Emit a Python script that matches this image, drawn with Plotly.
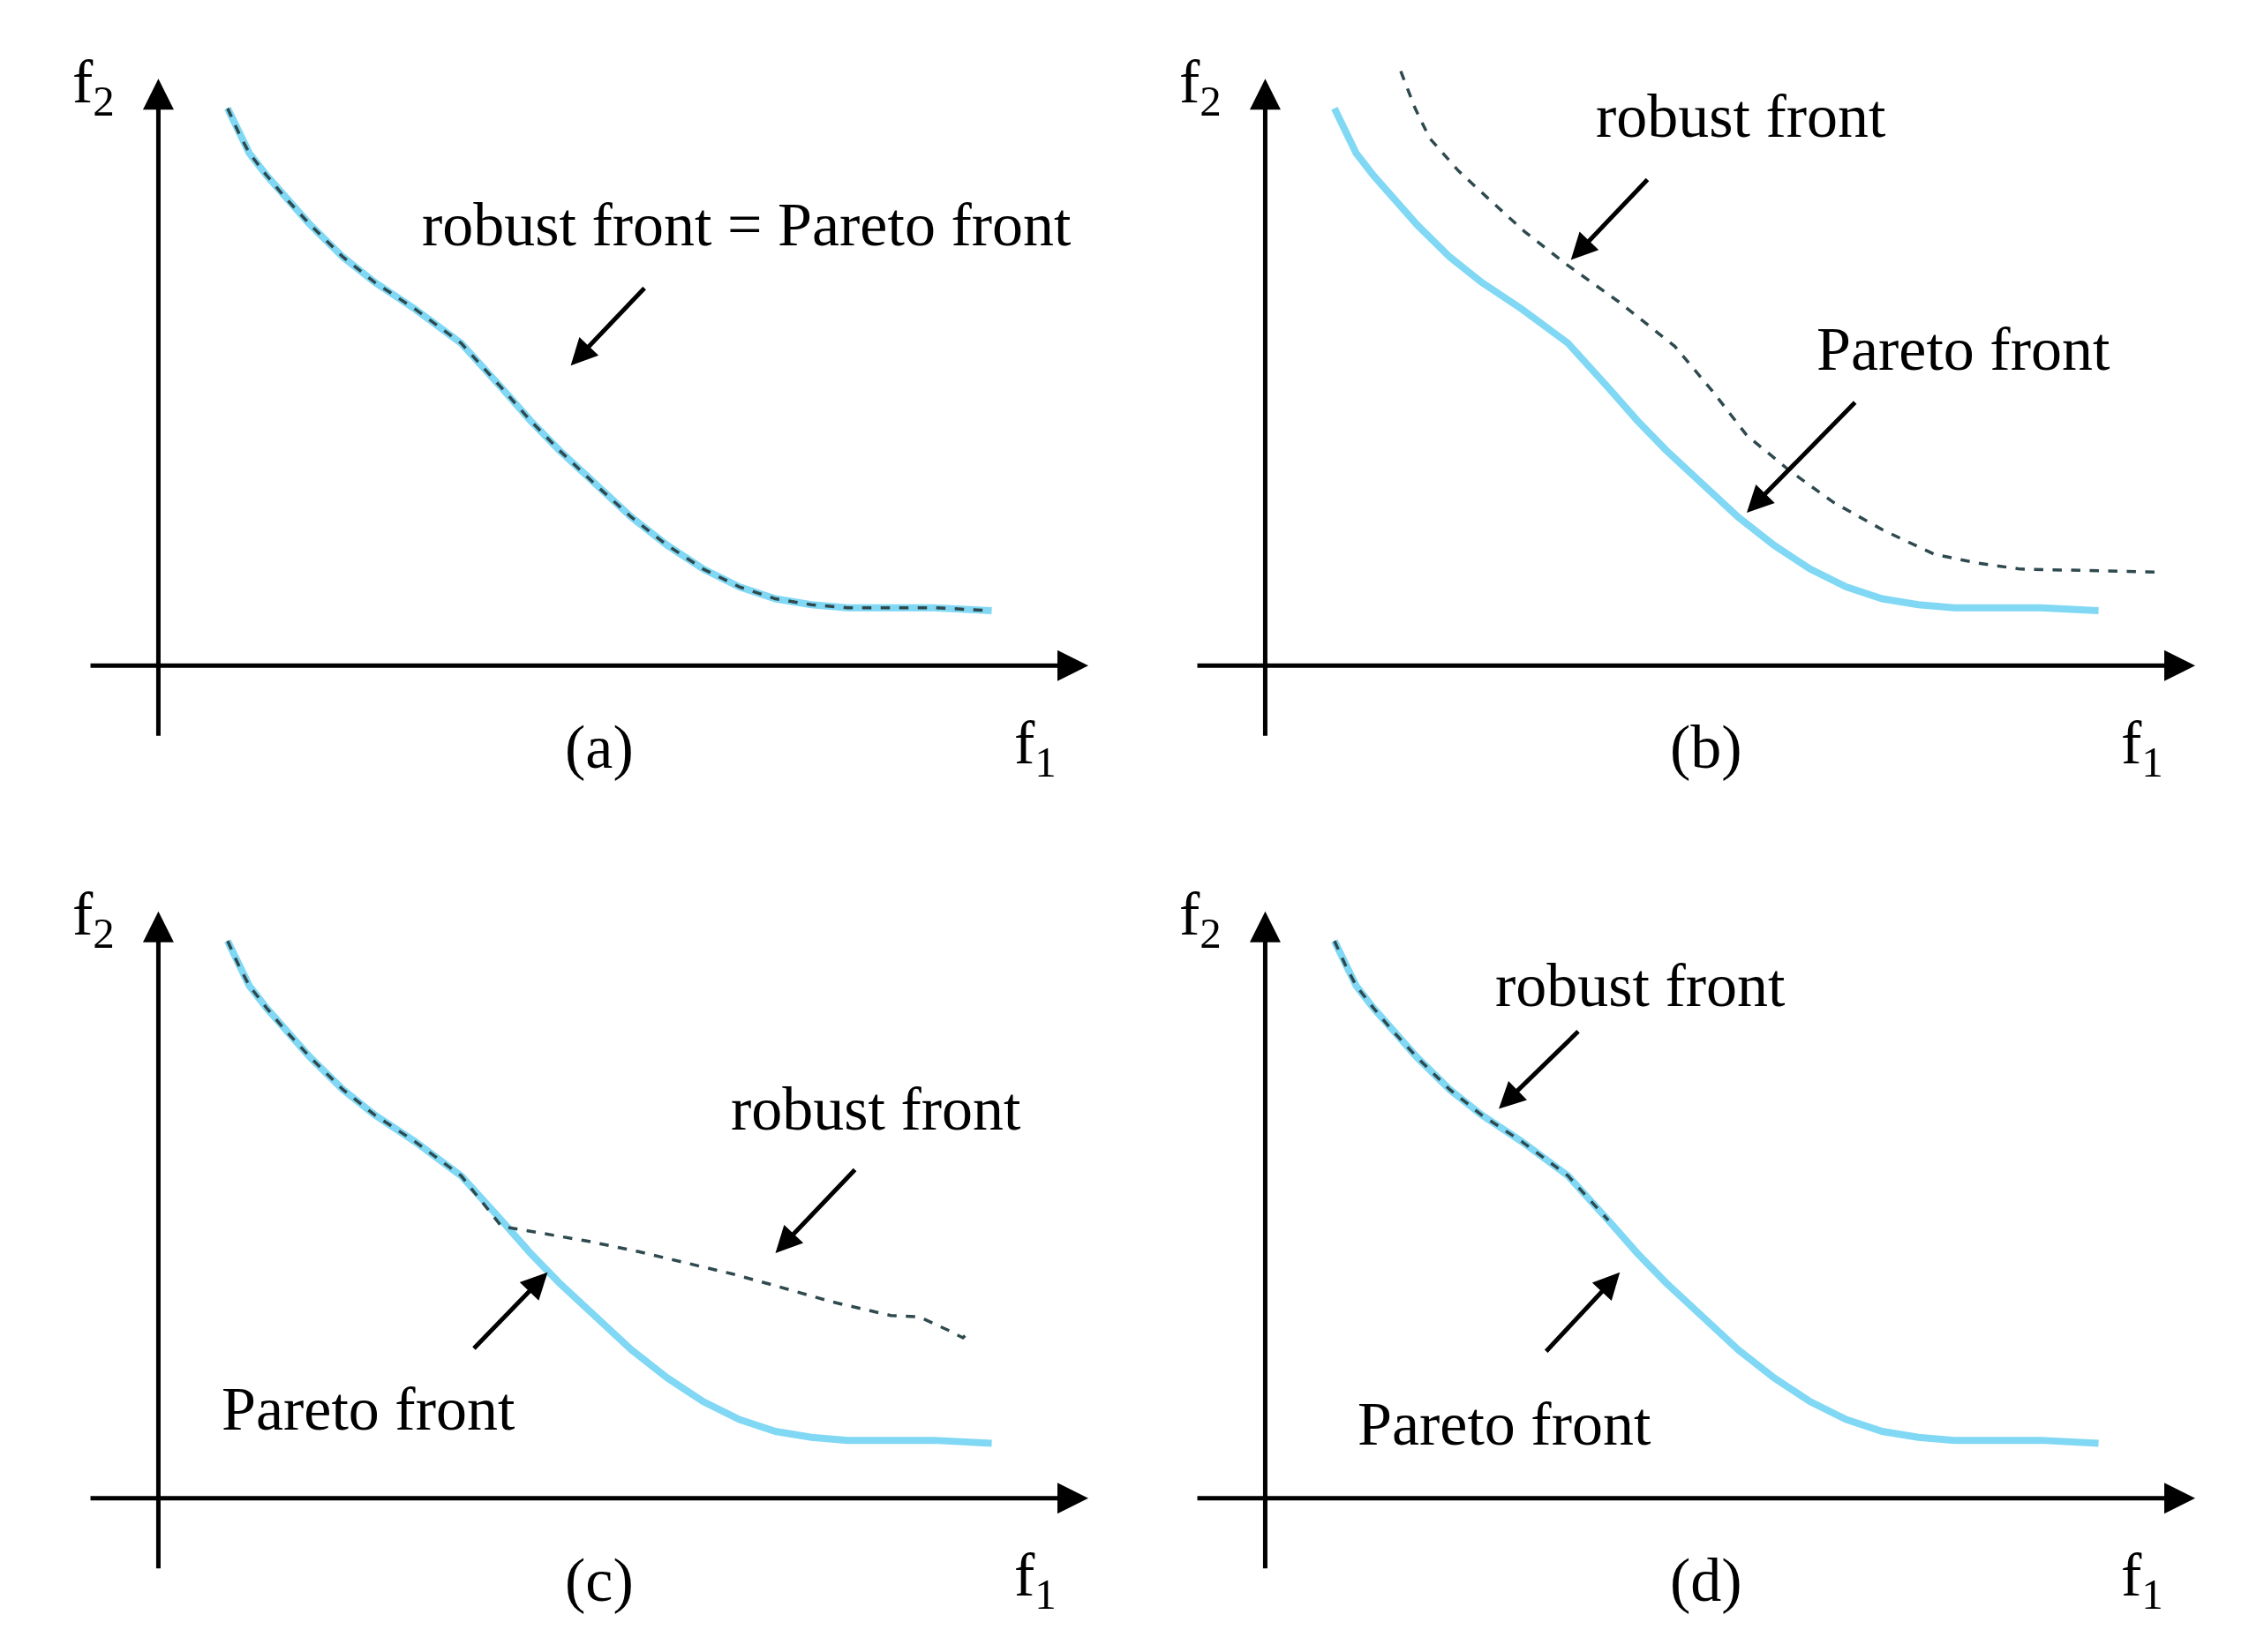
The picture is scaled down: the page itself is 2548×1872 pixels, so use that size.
import plotly.graph_objects as go

# Pareto front (same shape in all four panels)
pareto_x = [48, 56, 63, 75, 88, 105, 128, 150, 178, 210, 238, 258, 278, 303, 328, 353, 378, 403, 428, 453, 478, 508, 538, 578]
pareto_y = [375, 358, 345, 330, 315, 297, 275, 258, 240, 217, 187, 165, 145, 122, 100, 81, 65, 53, 45, 41, 39, 39, 39, 37]

# robust fronts
robust_a_x = pareto_x
robust_a_y = pareto_y
robust_b_x = [94, 104, 114, 134, 154, 180, 209, 245, 284, 310, 334, 364, 394, 429, 464, 494, 524, 570, 619]
robust_b_y = [400, 375, 355, 333, 315, 292, 270, 245, 215, 185, 155, 131, 110, 91, 75, 69, 65, 64, 63]
robust_c_x = [48, 56, 63, 75, 88, 105, 128, 150, 178, 210, 238, 268, 298, 333, 368, 398, 428, 468, 508, 528, 548, 558, 563]
robust_c_y = [375, 358, 345, 330, 315, 297, 275, 258, 240, 217, 183, 178, 173, 166, 158, 151, 143, 132, 123, 122, 113, 108, 113]
robust_d_x = [48, 56, 63, 75, 88, 105, 128, 150, 178, 210, 238]
robust_d_y = [375, 358, 345, 330, 315, 297, 275, 258, 240, 217, 187]

panel_labels = ["(a)", "(b)", "(c)", "(d)"]
robust_x = [robust_a_x, robust_b_x, robust_c_x, robust_d_x]
robust_y = [robust_a_y, robust_b_y, robust_c_y, robust_d_y]

# (text, text x, text y, arrow tail x, tail y, head x, head y)
notes = [
    [("robust front = Pareto front", 408, 297, 338, 255, 286, 202)],
    [("robust front", 330, 370, 266, 328, 212, 273),
     ("Pareto front", 484, 213, 410, 178, 334, 103)],
    [("robust front", 498, 262, 484, 222, 428, 165),
     ("Pareto front", 146, 60, 218, 100, 270, 152)],
    [("Pareto front", 166, 50, 194, 98, 246, 152),
     ("robust front", 260, 345, 218, 315, 162, 262)],
]

domains_x = [[0.02, 0.5], [0.52, 1.0], [0.02, 0.5], [0.52, 1.0]]
domains_y = [[0.53, 0.985], [0.53, 0.985], [0.015, 0.47], [0.015, 0.47]]

font = dict(family="Liberation Serif", size=70, color="black")
fig = go.Figure()
annotations = []
for i in range(4):
    n = "" if i == 0 else str(i + 1)
    xa, ya = "x" + n, "y" + n
    fig.add_trace(go.Scatter(x=pareto_x, y=pareto_y, mode="lines", xaxis=xa, yaxis=ya,
                             line=dict(color="#80d8f4", width=8), showlegend=False))
    fig.add_trace(go.Scatter(x=robust_x[i], y=robust_y[i], mode="lines", xaxis=xa, yaxis=ya,
                             line=dict(color="#2f4a4f", width=3.5, dash="dash"),
                             showlegend=False))
    fig.layout["xaxis" + n] = dict(domain=domains_x[i], range=[-62, 675], visible=False, anchor=ya)
    fig.layout["yaxis" + n] = dict(domain=domains_y[i], range=[-80, 415], visible=False, anchor=xa)
    ref = dict(xref=xa, yref=ya, axref=xa, ayref=ya, showarrow=True, arrowhead=2,
               arrowsize=1.4, arrowwidth=5, arrowcolor="black", text="")
    annotations.append(dict(ref, x=645, y=0, ax=-48, ay=0))
    annotations.append(dict(ref, x=0, y=395, ax=0, ay=-48))
    annotations.append(dict(xref=xa, yref=ya, x=306, y=-55, text=panel_labels[i], showarrow=False, font=font))
    annotations.append(dict(xref=xa, yref=ya, x=608, y=-55, text="f<sub>1</sub>", showarrow=False, font=font))
    annotations.append(dict(xref=xa, yref=ya, x=-45, y=390, text="f<sub>2</sub>", showarrow=False, font=font))
    for t, tx, ty, x0, y0, x1, y1 in notes[i]:
        annotations.append(dict(xref=xa, yref=ya, x=tx, y=ty, text=t, showarrow=False, font=font))
        annotations.append(dict(ref, x=x1, y=y1, ax=x0, ay=y0, arrowwidth=5, arrowsize=1.2))

fig.update_layout(annotations=annotations, width=2548, height=1872,
                  margin=dict(l=20, r=20, t=20, b=20),
                  plot_bgcolor="white", paper_bgcolor="white")
fig.write_html("out.html")
